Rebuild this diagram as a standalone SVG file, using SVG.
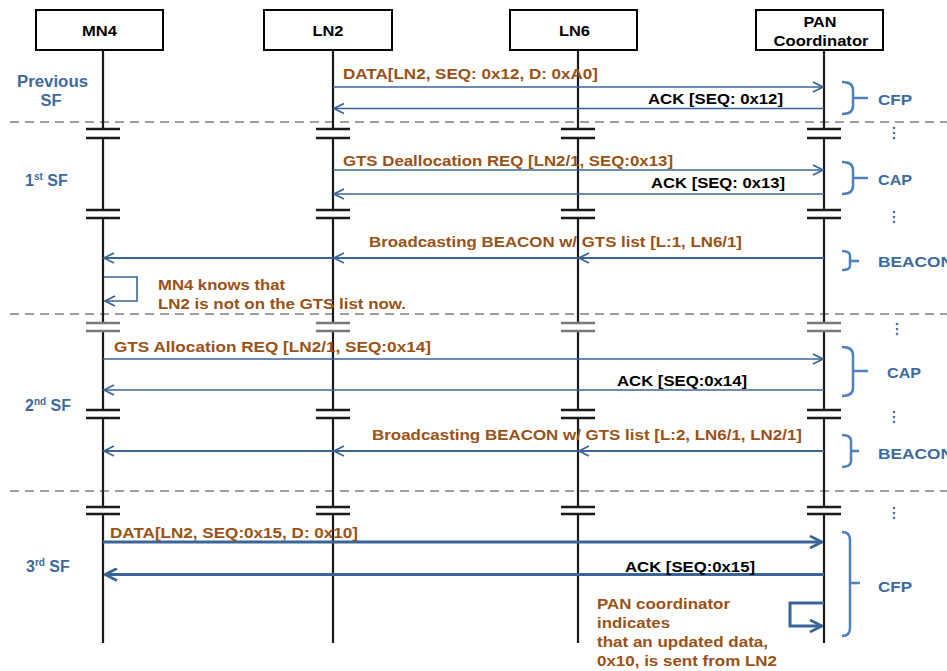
<svg xmlns="http://www.w3.org/2000/svg" width="947" height="671" viewBox="0 0 947 671">
<defs>
<style>
text{font-family:"Liberation Sans",Arial,sans-serif;font-weight:bold}
.node rect{fill:#fff;stroke:#000;stroke-width:2}
.node text{font-size:14px;fill:#000;text-anchor:middle}
.life{stroke:#1a1a1a;stroke-width:2.2;fill:none}
.brk{stroke:#1a1a1a;stroke-width:2.5}
.brkg{stroke:#7a7a7a;stroke-width:2.5}
.dash{stroke:#a0a0a0;stroke-width:2;stroke-dasharray:9 6}
.msg{stroke:#3b6598;stroke-width:1.6;fill:none}
.msgb{stroke:#3b6598;stroke-width:2.2;fill:none}
.msgt{stroke:#3b6598;stroke-width:3;fill:none}
.lbl{font-size:15px;fill:#9a5216}
.ack{font-size:15px;fill:#000}
.sf{font-size:16px;fill:#3e6aa0}
.ph{font-size:15px;fill:#3e6aa0}
.brace{stroke:#4f81bd;stroke-width:2.5;fill:none}
.dot{fill:#4f72a3}
</style>
<marker id="ah" viewBox="0 0 12 12" refX="11" refY="6" markerWidth="12" markerHeight="12" markerUnits="userSpaceOnUse" orient="auto"><path d="M1,1 L11,6 L1,11" fill="none" stroke="#3b6598" stroke-width="1.8"/></marker>
<marker id="ahb" viewBox="0 0 14 14" refX="13" refY="7" markerWidth="14" markerHeight="14" markerUnits="userSpaceOnUse" orient="auto"><path d="M1,1 L13,7 L1,13" fill="none" stroke="#3b6598" stroke-width="2.8"/></marker>
</defs>
<rect width="947" height="671" fill="#fff"/>

<!-- superframe separators -->
<g id="separators">
<line class="dash" x1="10" y1="122" x2="947" y2="122"/>
<line class="dash" x1="10" y1="314" x2="947" y2="314"/>
<line class="dash" x1="10" y1="491" x2="947" y2="491"/>
</g>

<!-- nodes -->
<g id="MN4" class="node">
<rect x="36" y="10" width="127" height="40"/>
<text x="99.5" y="36" textLength="35" lengthAdjust="spacingAndGlyphs">MN4</text>
<path class="life" d="M103,50V129M103,138V210M103,218V323M103,331V410M103,418V507M103,514V643"/>
</g>
<g id="LN2" class="node">
<rect x="264" y="10" width="128" height="40"/>
<text x="328" y="36" textLength="31" lengthAdjust="spacingAndGlyphs">LN2</text>
<path class="life" d="M333,50V129M333,138V210M333,218V323M333,331V410M333,418V507M333,514V643"/>
</g>
<g id="LN6" class="node">
<rect x="510" y="10" width="127" height="40"/>
<text x="574.5" y="36" textLength="31" lengthAdjust="spacingAndGlyphs">LN6</text>
<path class="life" d="M578,50V129M578,138V210M578,218V323M578,331V410M578,418V507M578,514V643"/>
</g>
<g id="PAN" class="node">
<rect x="756" y="10" width="127" height="40"/>
<text x="820" y="27" textLength="33" lengthAdjust="spacingAndGlyphs">PAN</text>
<text x="821" y="46" textLength="95" lengthAdjust="spacingAndGlyphs">Coordinator</text>
<path class="life" d="M824,50V129M824,138V210M824,218V323M824,331V410M824,418V507M824,514V643"/>
</g>

<!-- break marks -->
<g id="breaks">
<path class="brk" d="M86,129H120M86,138H120M316,129H350M316,138H350M561,129H595M561,138H595M807,129H841M807,138H841"/>
<path class="brk" d="M86,210H120M86,218H120M316,210H350M316,218H350M561,210H595M561,218H595M807,210H841M807,218H841"/>
<path class="brkg" d="M86,323H120M86,331H120M316,323H350M316,331H350M561,323H595M561,331H595M807,323H841M807,331H841"/>
<path class="brk" d="M86,410H120M86,418H120M316,410H350M316,418H350M561,410H595M561,418H595M807,410H841M807,418H841"/>
<path class="brk" d="M86,507H120M86,514H120M316,507H350M316,514H350M561,507H595M561,514H595M807,507H841M807,514H841"/>
</g>

<!-- connectors -->
<g id="connectors">
<line class="msg" x1="333" y1="87" x2="823" y2="87" marker-end="url(#ah)"/>
<line class="msg" x1="824" y1="108.5" x2="334" y2="108.5" marker-end="url(#ah)"/>
<line class="msg" x1="333" y1="170" x2="823" y2="170" marker-end="url(#ah)"/>
<line class="msg" x1="824" y1="194" x2="334" y2="194" marker-end="url(#ah)"/>
<line class="msgb" x1="824" y1="258" x2="579" y2="258" marker-end="url(#ah)"/>
<line class="msgb" x1="578" y1="258" x2="334" y2="258" marker-end="url(#ah)"/>
<line class="msgb" x1="333" y1="258" x2="104" y2="258" marker-end="url(#ah)"/>
<path class="msg" d="M104,277H137V301H105" marker-end="url(#ah)"/>
<line class="msg" x1="103" y1="359" x2="823" y2="359" marker-end="url(#ah)"/>
<line class="msg" x1="824" y1="390" x2="104" y2="390" marker-end="url(#ah)"/>
<line class="msgb" x1="824" y1="451" x2="579" y2="451" marker-end="url(#ah)"/>
<line class="msgb" x1="578" y1="451" x2="334" y2="451" marker-end="url(#ah)"/>
<line class="msgb" x1="333" y1="451" x2="104" y2="451" marker-end="url(#ah)"/>
<line class="msgt" x1="103" y1="542" x2="822" y2="542" marker-end="url(#ahb)"/>
<line class="msgt" x1="824" y1="574.5" x2="105" y2="574.5" marker-end="url(#ahb)"/>
<path class="msgt" d="M824,603H790V626H822" marker-end="url(#ahb)"/>
</g>

<!-- message labels -->
<g id="labels">
<text class="lbl" x="343" y="79" textLength="255" lengthAdjust="spacingAndGlyphs">DATA[LN2, SEQ: 0x12, D: 0xA0]</text>
<text class="ack" x="648" y="104" textLength="135" lengthAdjust="spacingAndGlyphs">ACK [SEQ: 0x12]</text>
<text class="lbl" x="343" y="166" textLength="330" lengthAdjust="spacingAndGlyphs">GTS Deallocation REQ [LN2/1, SEQ:0x13]</text>
<text class="ack" x="651" y="188" textLength="134" lengthAdjust="spacingAndGlyphs">ACK [SEQ: 0x13]</text>
<text class="lbl" x="369" y="247" textLength="373" lengthAdjust="spacingAndGlyphs">Broadcasting BEACON w/ GTS list [L:1, LN6/1]</text>
<text class="lbl" x="158" y="290" textLength="127" lengthAdjust="spacingAndGlyphs">MN4 knows that</text>
<text class="lbl" x="158" y="309" textLength="248" lengthAdjust="spacingAndGlyphs">LN2 is not on the GTS list now.</text>
<text class="lbl" x="114" y="352" textLength="317" lengthAdjust="spacingAndGlyphs">GTS Allocation REQ [LN2/1, SEQ:0x14]</text>
<text class="ack" x="617" y="386" textLength="130" lengthAdjust="spacingAndGlyphs">ACK [SEQ:0x14]</text>
<text class="lbl" x="372" y="440" textLength="430" lengthAdjust="spacingAndGlyphs">Broadcasting BEACON w/ GTS list [L:2, LN6/1, LN2/1]</text>
<text class="lbl" x="110" y="538" textLength="248" lengthAdjust="spacingAndGlyphs">DATA[LN2, SEQ:0x15, D: 0x10]</text>
<text class="ack" x="625" y="572" textLength="130" lengthAdjust="spacingAndGlyphs">ACK [SEQ:0x15]</text>
<text class="lbl" x="597" y="609" textLength="133" lengthAdjust="spacingAndGlyphs">PAN coordinator</text>
<text class="lbl" x="597" y="628" textLength="73" lengthAdjust="spacingAndGlyphs">indicates</text>
<text class="lbl" x="597" y="647" textLength="171" lengthAdjust="spacingAndGlyphs">that an updated data,</text>
<text class="lbl" x="597" y="666" textLength="180" lengthAdjust="spacingAndGlyphs">0x10, is sent from LN2</text>
</g>

<!-- superframe labels -->
<g id="sf-labels">
<text class="sf" x="52.5" y="87" text-anchor="middle" textLength="71" lengthAdjust="spacingAndGlyphs">Previous</text>
<text class="sf" x="51" y="106" text-anchor="middle" textLength="21" lengthAdjust="spacingAndGlyphs">SF</text>
<text class="sf" x="25" y="186">1<tspan font-size="10" dy="-6">st</tspan><tspan dy="6"> SF</tspan></text>
<text class="sf" x="25" y="411">2<tspan font-size="10" dy="-6">nd</tspan><tspan dy="6"> SF</tspan></text>
<text class="sf" x="26" y="572">3<tspan font-size="10" dy="-6">rd</tspan><tspan dy="6"> SF</tspan></text>
</g>

<!-- period braces -->
<g id="periods">
<path class="brace" d="M842,82Q853,82 853,90V106Q853,114 842,114M853,98H868"/>
<text class="ph" x="878" y="105" textLength="34" lengthAdjust="spacingAndGlyphs">CFP</text>
<path class="brace" d="M842,162Q853,162 853,170V186Q853,194 842,194M853,178H868"/>
<text class="ph" x="878" y="185" textLength="34" lengthAdjust="spacingAndGlyphs">CAP</text>
<path class="brace" d="M842,251Q850,251 850,256V266Q850,270 842,270M850,261H859"/>
<text class="ph" x="878" y="267" textLength="75" lengthAdjust="spacingAndGlyphs">BEACON</text>
<path class="brace" d="M842,347Q853,347 853,355V388Q853,396 842,396M853,371H868"/>
<text class="ph" x="887" y="378" textLength="34" lengthAdjust="spacingAndGlyphs">CAP</text>
<path class="brace" d="M842,435Q851,435 851,441V461Q851,467 842,467M851,451H859"/>
<text class="ph" x="878" y="459" textLength="75" lengthAdjust="spacingAndGlyphs">BEACON</text>
<path class="brace" d="M842,532Q850,532 850,540V628Q850,636 842,636M850,583H860"/>
<text class="ph" x="878" y="592" textLength="34" lengthAdjust="spacingAndGlyphs">CFP</text>
<g class="dot">
<circle cx="894" cy="128" r="1.3"/><circle cx="894" cy="133" r="1.3"/><circle cx="894" cy="138" r="1.3"/>
<circle cx="894" cy="212" r="1.3"/><circle cx="894" cy="217" r="1.3"/><circle cx="894" cy="222" r="1.3"/>
<circle cx="897" cy="324" r="1.3"/><circle cx="897" cy="329" r="1.3"/><circle cx="897" cy="334" r="1.3"/>
<circle cx="894" cy="412" r="1.3"/><circle cx="894" cy="417" r="1.3"/><circle cx="894" cy="422" r="1.3"/>
<circle cx="894" cy="508" r="1.3"/><circle cx="894" cy="513" r="1.3"/><circle cx="894" cy="518" r="1.3"/>
</g>
</g>
</svg>
